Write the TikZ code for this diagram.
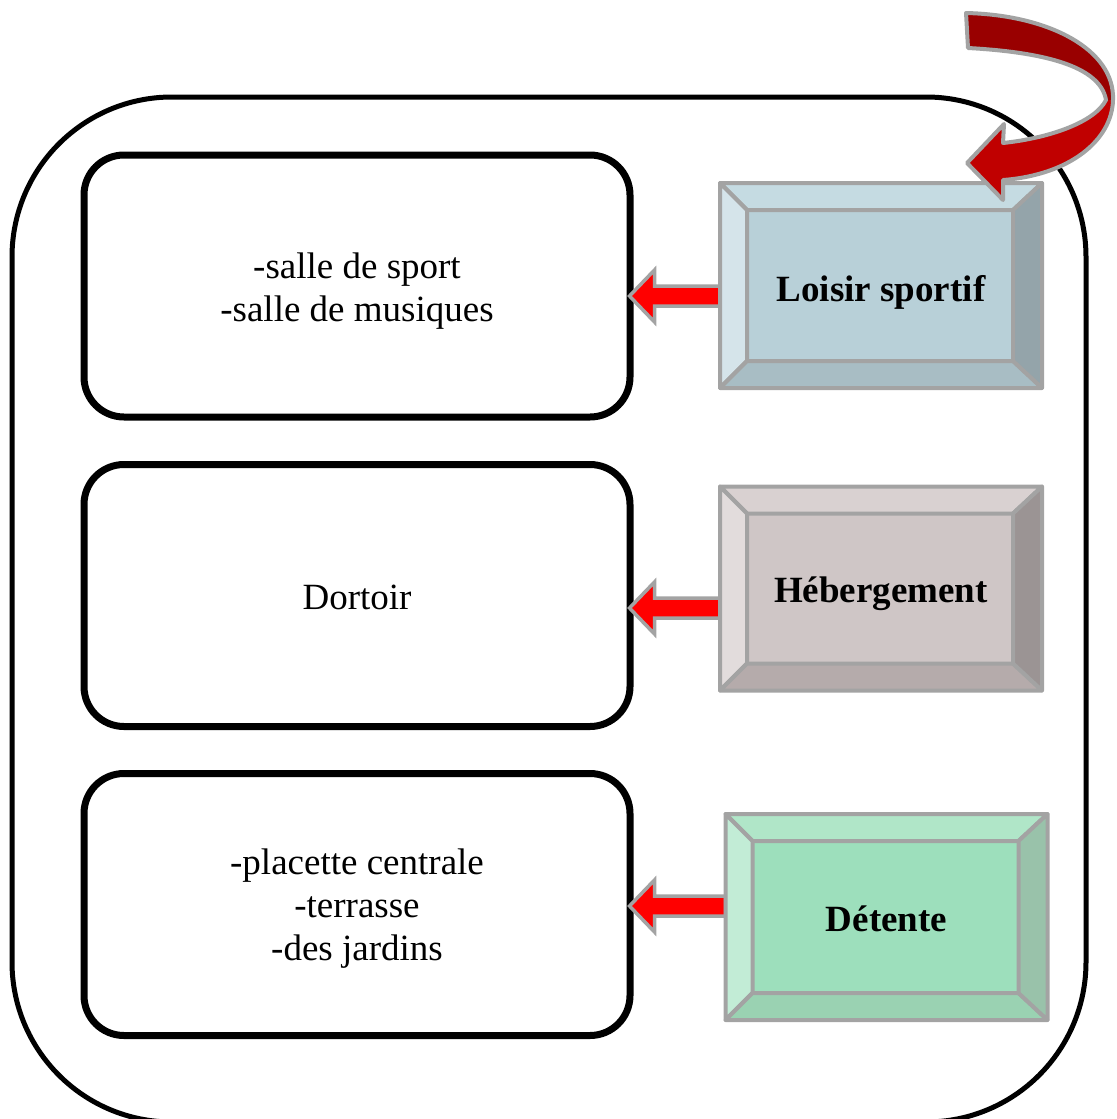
\documentclass[tikz,border=0pt]{standalone}
\usepackage{fontspec}
\setmainfont{Liberation Serif}
\usepackage{tikz}
\usetikzlibrary{calc}

\definecolor{bevelgray}{HTML}{A3A3A3}
\definecolor{flechered}{HTML}{FF0000}
\definecolor{courbehaut}{HTML}{990000}
\definecolor{courbebas}{HTML}{C00000}
% Loisir sportif
\definecolor{lsmid}{HTML}{B8D0D8}
\definecolor{lstop}{HTML}{C5DBE2}
\definecolor{lsleft}{HTML}{D5E4EA}
\definecolor{lsbot}{HTML}{A8BDC4}
\definecolor{lsright}{HTML}{94A4AA}
% Hebergement
\definecolor{hbmid}{HTML}{CFC6C6}
\definecolor{hbtop}{HTML}{D9D1D1}
\definecolor{hbleft}{HTML}{E2DCDC}
\definecolor{hbbot}{HTML}{B5ABAB}
\definecolor{hbright}{HTML}{9B9494}
% Detente
\definecolor{dtmid}{HTML}{9DDFBC}
\definecolor{dttop}{HTML}{B0E6C8}
\definecolor{dtleft}{HTML}{C2ECD6}
\definecolor{dtbot}{HTML}{9AD2B2}
\definecolor{dtright}{HTML}{99C2AA}

% bevel facets round a named node: #1 node, #2 top, #3 left, #4 bottom, #5 right
\newcommand{\bevelframe}[5]{%
  \coordinate (#1-a) at ([shift={(27,27)}]#1.north west);
  \coordinate (#1-b) at ([shift={(-29,27)}]#1.north east);
  \coordinate (#1-c) at ([shift={(-29,-27)}]#1.south east);
  \coordinate (#1-d) at ([shift={(27,-27)}]#1.south west);
  \filldraw[facet, fill=#2] (#1.north west) -- (#1.north east) -- (#1-b) -- (#1-a) -- cycle;
  \filldraw[facet, fill=#3] (#1.north west) -- (#1-a) -- (#1-d) -- (#1.south west) -- cycle;
  \filldraw[facet, fill=#4] (#1.south west) -- (#1-d) -- (#1-c) -- (#1.south east) -- cycle;
  \filldraw[facet, fill=#5] (#1.north east) -- (#1.south east) -- (#1-c) -- (#1-b) -- cycle;
}

% left-pointing block arrow: #1 source box, #2 target box, #3 vertical offset
\newcommand{\flechegauche}[3]{%
  \coordinate (#2-tip) at ([shift={(-4,#3)}]#2.east);
  \filldraw[flecherouge] (#2-tip) -- ++(25,-26) -- ++(0,16)
    -- ($(#2-tip -| #1.west)+(0,-10)$) -- ++(0,20)
    -- ($(#2-tip)+(25,10)$) -- ++(0,16) -- cycle;
}

\begin{document}
\begin{tikzpicture}[
  x=0.5pt, y=-0.5pt,
  cadre/.style  ={draw=black, line width=2.5pt, rounded corners=80pt},
  content/.style={rectangle, draw=black, line width=3.5pt, rounded corners=20pt,
                  fill=white, minimum width=273pt, minimum height=131pt,
                  inner sep=0pt},
  textlab/.style={align=center, inner sep=0pt,
                  font=\fontsize{18.5}{21.5}\selectfont},
  bevel/.style  ={rectangle, draw=bevelgray, line width=2pt,
                  minimum width=159pt, minimum height=100.5pt, inner sep=0pt},
  bevellab/.style={inner sep=0pt, font=\fontsize{18.5}{21.5}\selectfont\bfseries},
  facet/.style  ={draw=bevelgray, line width=2pt, line join=round},
  flecherouge/.style={fill=flechered, draw=bevelgray, line width=1.75pt},
  courbe/.style ={draw=bevelgray, line width=2pt, line join=round}
]
\useasboundingbox (0,0) rectangle (1116,1119);
% ---- Outer frame -----------------------------------------------------------
\draw[cadre] (12,97) rectangle (1086,1122);
% ---- Content boxes ---------------------------------------------------------
\node[content, label={[textlab, yshift=-2.5pt]center:-salle de sport\\-salle de musiques}]
  (sport) at (357,286) {};
\node[content, label={[textlab, yshift=-1pt]center:Dortoir}]
  (dort) at (357,595.5) {};
\node[content, label={[textlab, yshift=-2pt]center:-placette centrale\\-terrasse\\-des jardins}]
  (jardin) at (357,904.5) {};
% ---- Arrows ----------------------------------------------------------------
\node[bevel, minimum height=100.5pt] (loisir) at (881,285.5) {};
\node[bevel, minimum height=100pt]   (heberg) at (881,588.5) {};
\node[bevel, minimum height=101pt]   (detente) at (886.5,917) {};
\flechegauche{loisir}{sport}{10}
\flechegauche{heberg}{dort}{12.5}
\flechegauche{detente}{jardin}{1.5}
% ---- Bevel boxes -----------------------------------------------------------
\node[bevel, fill=lsmid, label={[bevellab, yshift=-3.5pt]center:Loisir sportif}] at (loisir) {};
\bevelframe{loisir}{lstop}{lsleft}{lsbot}{lsright}
\node[bevel, minimum height=100pt, fill=hbmid, label={[bevellab, yshift=-2.5pt]center:Hébergement}] at (heberg) {};
\bevelframe{heberg}{hbtop}{hbleft}{hbbot}{hbright}
\node[bevel, minimum height=101pt, fill=dtmid, label={[bevellab, yshift=-1pt]center:Détente}] at (detente) {};
\bevelframe{detente}{dttop}{dtleft}{dtbot}{dtright}
% ---- Curved arrow ----------------------------------------------------------
\fill[courbehaut] (966,13) .. controls (1050,15) and (1115,50) .. (1113,100)
  -- (1106,100) .. controls (1100,65) and (1040,52) .. (968,48) -- cycle;
\fill[courbebas] (1113,100) .. controls (1112,140) and (1070,175) .. (1003,180)
  -- (1003,200) -- (967,163) -- (1004,124) -- (1003,143)
  .. controls (1050,138) and (1095,122) .. (1106,100) -- cycle;
\draw[courbe] (966,13) .. controls (1050,15) and (1115,50) .. (1113,100)
  .. controls (1112,140) and (1070,175) .. (1003,180)
  -- (1003,200) -- (967,163) -- (1004,124) -- (1003,143)
  .. controls (1050,138) and (1095,122) .. (1106,100)
  .. controls (1100,65) and (1040,52) .. (968,48) -- cycle;
\end{tikzpicture}
\end{document}
